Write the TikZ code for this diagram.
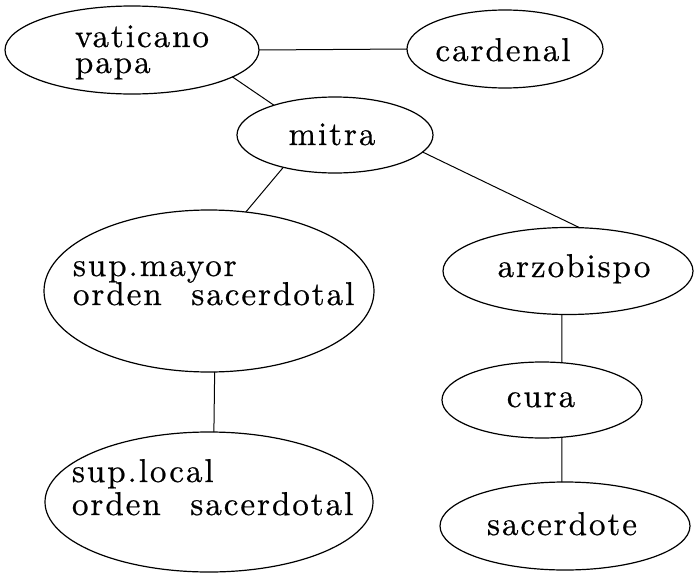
\documentclass[tikz,border=0pt]{standalone}
\usepackage{fontspec}
\newfontfamily\lblfont{lmroman10-regular.otf}[LetterSpace=6, FakeBold=0.6]
\usetikzlibrary{shapes.geometric}
\tikzset{
  oval/.style={ellipse, draw, line width=1.2pt, inner sep=0pt, outer sep=0pt},
  lbl/.style={inner sep=0pt, outer sep=0pt, font=\lblfont\fontsize{33pt}{38pt}\selectfont},
  link/.style={line width=1pt}
}
\newcommand{\wgap}{\hspace{0.9em}}
\begin{document}
\begin{tikzpicture}[x=1pt, y=-1pt]
\useasboundingbox (0,0) rectangle (694,573);
% ellipses
\node[oval, minimum width=254pt, minimum height=88pt] (vat) at (132,50) {};
\node[oval, minimum width=196pt, minimum height=78pt] (card) at (505,49) {};
\node[oval, minimum width=196pt, minimum height=76pt] (mitra) at (335,135) {};
\node[oval, minimum width=330pt, minimum height=162pt] (supmayor) at (209,291) {};
\node[oval, minimum width=250pt, minimum height=87pt] (arz) at (568,271) {};
\node[oval, minimum width=200pt, minimum height=76pt] (cura) at (542,400) {};
\node[oval, minimum width=328pt, minimum height=140pt] (suplocal) at (209,502) {};
\node[oval, minimum width=250pt, minimum height=88pt] (sac) at (565,526) {};
% labels (base anchor = baseline of last line)
\node[lbl, anchor=base west, align=left] (tvat) at (75,73) {vaticano\\[-12pt]papa};
\node[lbl, anchor=base] (tcard) at (503,61) {cardenal};
\node[lbl, anchor=base] (tmitra) at (332,145) {mitra};
\node[lbl, anchor=base west, align=left] (tsm) at (73,305) {sup.mayor\\[-9pt]orden\wgap sacerdotal};
\node[lbl, anchor=base] (tarz) at (574,277) {arzobispo};
\node[lbl, anchor=base] (tcura) at (541,407) {cura};
\node[lbl, anchor=base west, align=left] (tsl) at (72,515) {sup.local\\[-5pt]orden\wgap sacerdotal};
\node[lbl, anchor=base] (tsac) at (562,535) {sacerdote};
% connectors
\draw[link] (vat.east) -- (card.west);
\draw[link] (vat.-15) -- (mitra.154);
\draw[link] (mitra.212.6) -- (supmayor.65);
\draw[link] (mitra.-11.6) -- (arz.75);
\draw[link] (supmayor.-86.5) -- (suplocal.86);
\draw[link] (arz.-98) -- (cura.62);
\draw[link] (cura.-62) -- (sac.94);
\end{tikzpicture}
\end{document}
